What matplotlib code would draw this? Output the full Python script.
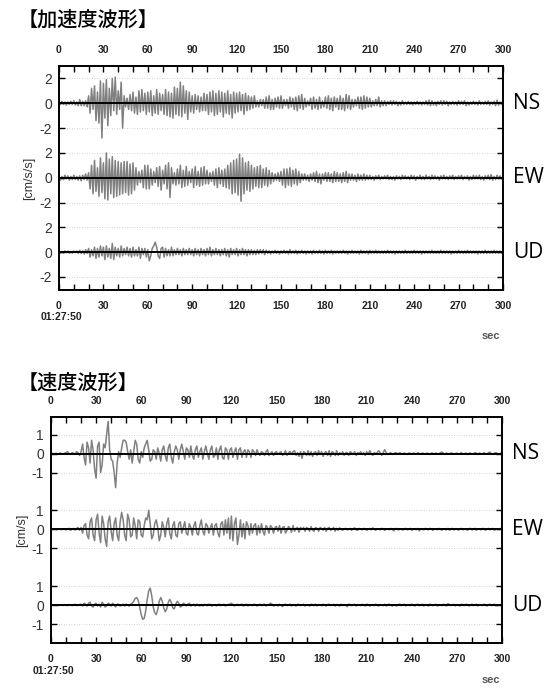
import numpy as np
import matplotlib
matplotlib.use("Agg")
import matplotlib.pyplot as plt
from matplotlib.ticker import MultipleLocator

plt.rcParams['font.family'] = ['Liberation Sans', 'DejaVu Sans']

# ---- data (1 s step, 0..300 s) ----
acc_ns = [
    0.1,-0.1,0.15,-0.1,0.1,-0.15,0.1,-0.1,0.15,-0.1,
    0.2,-0.15,0.1,-0.2,0.3,-0.2,0.15,-0.2,0.2,-0.3,
    0.6,-0.8,1.2,-0.5,1.4,-1.4,0.9,-1.6,1.8,-2.8,
    1.6,-1.2,1.9,-1.8,1.2,-1.0,2.0,-0.6,2.1,-0.9,
    1.0,-0.5,1.7,-2.0,0.6,-0.3,0.4,-0.5,0.7,-0.6,
    0.9,-0.8,0.5,-0.9,1.0,-0.7,1.1,-0.6,0.8,-0.9,
    0.9,-0.7,1.0,-1.0,0.6,-0.8,1.1,-0.9,0.8,-0.6,
    0.7,-0.9,1.1,-1.0,0.9,-1.1,0.8,-1.2,1.3,-0.9,
    1.2,-1.0,1.7,-1.1,1.4,-0.8,1.0,-1.3,0.9,-0.7,
    0.6,-0.8,0.7,-0.5,0.6,-0.7,0.5,-0.6,0.8,-0.6,
    0.7,-0.9,0.9,-0.7,1.0,-1.0,0.8,-0.9,1.0,-0.7,
    0.9,-1.1,0.8,-0.8,1.0,-0.9,0.7,-1.2,0.9,-0.8,
    0.8,-0.7,0.9,-0.6,0.7,-0.9,0.8,-0.6,0.6,-0.5,
    0.5,-0.4,0.6,-0.3,0.2,-0.3,0.3,-0.2,0.3,-0.4,
    0.5,-0.4,0.6,-0.5,0.3,-0.5,0.4,-0.3,0.5,-0.4,
    0.6,-0.4,0.3,-0.2,0.3,-0.4,0.5,-0.3,0.4,-0.5,
    0.5,-0.6,0.6,-0.4,0.7,-0.5,0.4,-0.3,0.2,-0.2,
    0.4,-0.5,0.5,-0.4,0.3,-0.5,0.5,-0.4,0.2,-0.3,
    0.5,-0.4,0.6,-0.5,0.4,-0.6,0.5,-0.3,0.4,-0.5,
    0.6,-0.5,0.4,-0.6,0.7,-0.4,0.6,-0.5,0.3,-0.3,
    0.3,-0.2,0.5,-0.4,0.5,-0.5,0.6,-0.4,0.5,-0.3,
    0.4,-0.3,0.2,-0.2,0.3,-0.2,0.5,-0.3,0.2,-0.2,
    0.2,-0.2,0.15,-0.1,0.2,-0.15,0.2,-0.1,0.15,-0.2,
    0.1,-0.15,0.2,-0.1,0.1,-0.1,0.15,-0.1,0.1,-0.15,
    0.1,-0.1,0.15,-0.1,0.1,-0.15,0.1,-0.1,0.2,-0.15,
    0.25,-0.2,0.2,-0.15,0.1,-0.2,0.15,-0.1,0.2,-0.15,
    0.2,-0.1,0.15,-0.2,0.1,-0.1,0.15,-0.1,0.1,-0.15,
    0.2,-0.1,0.15,-0.1,0.2,-0.2,0.1,-0.15,0.1,-0.1,
    0.15,-0.1,0.1,-0.15,0.2,-0.1,0.1,-0.1,0.15,-0.1,
    0.2,-0.15,0.1,-0.1,0.15,-0.2,0.25,-0.15,0.1,-0.1,0.1,
]

acc_ew = [
    0.15,-0.2,0.1,-0.15,0.2,-0.1,0.15,-0.2,0.1,-0.15,
    0.2,-0.15,0.1,-0.2,0.15,-0.25,0.2,-0.15,0.3,-0.2,
    0.4,-0.9,1.0,-1.3,1.4,-1.1,0.8,-1.5,1.6,-1.2,
    1.2,-1.7,2.0,-1.8,1.5,-1.3,1.7,-1.6,1.4,-1.5,
    1.3,-1.4,1.2,-1.3,1.3,-1.2,1.3,-1.4,1.1,-1.3,
    1.2,-1.0,0.8,-0.6,0.5,-0.4,0.6,-0.8,1.0,-0.9,
    1.0,-0.9,0.7,-0.6,0.5,-0.4,0.8,-0.7,0.9,-1.0,
    0.6,-0.5,1.0,-0.9,1.2,-1.6,0.8,-0.5,0.4,-0.6,
    0.7,-0.5,1.0,-0.8,0.6,-0.7,0.9,-0.6,0.5,-0.4,
    0.7,-0.8,0.9,-0.6,0.5,-0.7,0.8,-0.6,0.9,-0.5,
    0.6,-0.5,0.4,-0.3,0.5,-0.6,0.7,-0.8,0.8,-0.5,
    0.6,-0.7,0.7,-0.8,1.0,-0.9,1.2,-1.3,1.4,-1.2,
    1.5,-1.4,1.9,-1.9,1.6,-1.3,1.2,-1.0,1.3,-1.1,
    1.0,-0.9,0.8,-0.7,0.9,-0.8,1.0,-0.8,0.7,-0.6,
    0.8,-0.7,0.6,-0.5,0.4,-0.3,0.3,-0.2,0.4,-0.3,
    0.5,-0.6,0.7,-0.8,0.7,-0.6,0.8,-0.7,0.6,-0.5,
    0.7,-0.6,0.5,-0.4,0.3,-0.2,0.3,-0.2,0.2,-0.3,
    0.3,-0.2,0.4,-0.3,0.5,-0.4,0.3,-0.5,0.3,-0.2,
    0.4,-0.3,0.4,-0.3,0.3,-0.4,0.5,-0.3,0.4,-0.3,
    0.3,-0.4,0.4,-0.3,0.5,-0.4,0.3,-0.2,0.3,-0.2,
    0.2,-0.3,0.3,-0.2,0.2,-0.2,0.3,-0.2,0.2,-0.15,
    0.2,-0.15,0.1,-0.2,0.15,-0.1,0.2,-0.15,0.1,-0.1,
    0.15,-0.1,0.2,-0.15,0.1,-0.15,0.1,-0.2,0.15,-0.1,
    0.1,-0.15,0.2,-0.1,0.15,-0.1,0.1,-0.15,0.2,-0.1,
    0.15,-0.2,0.1,-0.1,0.2,-0.15,0.1,-0.15,0.2,-0.1,
    0.1,-0.15,0.2,-0.1,0.15,-0.1,0.1,-0.2,0.15,-0.1,
    0.2,-0.1,0.1,-0.15,0.15,-0.1,0.2,-0.15,0.1,-0.1,
    0.15,-0.1,0.2,-0.15,0.1,-0.1,0.15,-0.2,0.1,-0.15,
    0.2,-0.1,0.15,-0.1,0.2,-0.15,0.1,-0.2,0.15,-0.1,
    0.2,-0.15,0.25,-0.2,0.1,-0.15,0.2,-0.1,0.15,-0.1,0.1,
]

acc_ud = [
    0.1,-0.1,0.05,-0.1,0.1,-0.05,0.1,-0.1,0.05,-0.1,
    0.1,-0.05,0.1,-0.1,0.15,-0.1,0.1,-0.15,0.2,-0.1,
    0.3,-0.4,0.2,-0.3,0.4,-0.5,0.3,-0.4,0.5,-0.3,
    0.4,-0.6,0.5,-0.4,0.3,-0.5,0.7,-0.6,0.4,-0.3,
    0.3,-0.4,0.5,-0.3,0.3,-0.2,0.4,-0.3,0.3,-0.4,
    0.4,-0.3,0.2,-0.3,0.4,-0.5,0.3,-0.2,0.3,-0.4,
    0.2,-0.7,-0.3,0.3,0.5,0.8,0.4,-0.3,-0.5,0.3,
    0.4,-0.4,0.3,-0.3,0.2,-0.3,0.4,-0.3,0.2,-0.2,
    0.3,-0.2,0.2,-0.3,0.3,-0.2,0.2,-0.2,0.3,-0.2,
    0.2,-0.3,0.3,-0.2,0.2,-0.3,0.3,-0.2,0.2,-0.3,
    0.3,-0.2,0.4,-0.3,0.2,-0.2,0.3,-0.2,0.2,-0.3,
    0.2,-0.2,0.3,-0.3,0.2,-0.4,0.3,-0.2,0.2,-0.2,
    0.3,-0.3,0.2,-0.2,0.3,-0.2,0.2,-0.3,0.2,-0.2,
    0.2,-0.2,0.15,-0.2,0.2,-0.15,0.2,-0.1,0.2,-0.2,
    0.15,-0.1,0.1,-0.15,0.1,-0.1,0.15,-0.1,0.1,-0.15,
    0.1,-0.1,0.15,-0.1,0.1,-0.15,0.2,-0.1,0.1,-0.1,
    0.15,-0.15,0.1,-0.1,0.15,-0.1,0.1,-0.15,0.1,-0.1,
    0.1,-0.15,0.15,-0.1,0.1,-0.1,0.15,-0.1,0.1,-0.15,
    0.15,-0.1,0.1,-0.1,0.15,-0.15,0.1,-0.1,0.1,-0.1,
    0.1,-0.1,0.15,-0.1,0.1,-0.15,0.1,-0.1,0.15,-0.1,
    0.1,-0.1,0.1,-0.15,0.15,-0.1,0.1,-0.1,0.1,-0.15,
    0.15,-0.1,0.1,-0.1,0.15,-0.1,0.1,-0.1,0.1,-0.1,
    0.1,-0.1,0.15,-0.1,0.1,-0.1,0.1,-0.15,0.1,-0.1,
    0.1,-0.1,0.1,-0.1,0.15,-0.1,0.1,-0.1,0.1,-0.1,
    0.15,-0.1,0.1,-0.1,0.1,-0.15,0.1,-0.1,0.1,-0.1,
    0.1,-0.1,0.15,-0.1,0.1,-0.1,0.1,-0.1,0.15,-0.1,
    0.1,-0.1,0.1,-0.1,0.1,-0.15,0.1,-0.1,0.1,-0.1,
    0.15,-0.1,0.1,-0.1,0.1,-0.1,0.15,-0.1,0.1,-0.1,
    0.1,-0.1,0.1,-0.15,0.1,-0.1,0.1,-0.1,0.15,-0.1,
    0.1,-0.1,0.1,-0.1,0.15,-0.1,0.1,-0.1,0.1,-0.1,0.1,
]

vel_ns = [
    0.0,0.02,-0.02,0.02,0.0,-0.02,0.03,0.0,-0.03,0.02,
    0.05,0.1,0.0,-0.05,0.05,0.02,-0.05,0.1,0.05,-0.1,
    0.1,0.5,-0.2,-0.6,0.6,0.3,-0.5,0.7,0.2,-0.8,
    -1.3,0.4,0.6,-1.0,-0.6,0.5,0.3,1.0,1.7,0.2,
    -0.3,-0.4,-1.0,-1.8,-0.5,0.1,-0.2,0.3,0.7,0.7,
    0.6,0.1,-0.3,0.2,-0.5,0.1,0.7,0.5,-0.3,-0.5,
    0.1,-0.2,0.3,0.5,0.7,0.2,-0.4,-0.3,0.2,0.1,
    -0.3,0.3,0.0,-0.4,0.2,0.4,-0.1,-0.4,0.3,0.5,
    -0.2,-0.5,0.1,0.4,0.2,-0.3,0.2,0.5,0.1,-0.3,
    0.3,0.2,-0.2,0.4,-0.1,-0.3,0.2,0.4,-0.2,0.1,
    0.3,-0.3,0.1,0.4,0.0,-0.3,0.2,0.4,-0.2,-0.1,
    0.3,-0.3,0.2,0.4,-0.2,-0.3,0.3,0.2,-0.3,0.2,
    0.3,-0.2,0.1,0.3,-0.3,0.2,0.3,-0.2,0.1,0.2,
    -0.2,0.2,0.1,-0.2,0.2,0.1,-0.1,0.2,0.0,-0.1,
    0.1,0.05,-0.1,0.1,0.2,-0.1,0.0,0.1,-0.1,0.05,
    0.1,-0.05,0.05,0.1,-0.1,0.0,0.15,-0.1,0.05,0.1,
    -0.05,0.1,0.15,-0.1,0.05,-0.15,0.1,-0.25,0.1,0.05,
    -0.1,0.15,-0.1,0.1,-0.15,0.05,0.1,-0.1,0.15,-0.05,
    0.1,-0.15,0.05,0.1,-0.1,0.15,-0.15,0.1,0.05,-0.1,
    0.15,-0.1,0.05,-0.05,0.1,-0.1,0.05,0.05,-0.1,0.1,
    0.05,-0.05,0.1,-0.1,0.05,0.0,0.1,-0.05,0.05,-0.1,
    0.1,-0.05,0.15,0.0,-0.1,0.05,0.0,0.05,0.15,0.05,
    -0.1,0.05,0.2,0.05,-0.05,0.0,0.05,-0.05,0.0,0.05,
    0.03,-0.03,0.05,0.0,-0.03,0.03,0.0,-0.05,0.03,0.02,
    -0.03,0.03,0.0,-0.03,0.05,0.0,-0.02,0.03,0.0,-0.03,
    0.03,0.0,-0.05,0.03,0.02,-0.03,0.03,0.0,-0.03,0.05,
    0.08,0.02,-0.05,0.03,0.0,-0.03,0.03,0.02,-0.03,0.0,
    0.03,-0.03,0.0,0.05,-0.03,0.0,0.03,-0.05,0.02,0.03,
    -0.03,0.0,0.05,0.02,-0.05,0.03,0.0,-0.03,0.05,0.0,
    -0.03,0.05,0.08,-0.02,-0.05,0.03,0.05,0.0,-0.03,0.03,0.0,
]

vel_ew = [
    0.0,-0.03,0.02,0.0,-0.02,0.03,0.0,-0.02,0.02,0.0,
    -0.03,0.02,0.05,-0.05,0.0,0.05,-0.05,0.05,0.1,-0.05,
    0.1,-0.2,0.2,0.3,-0.3,-0.5,0.4,0.6,-0.3,-0.6,
    0.5,0.8,-0.2,-0.7,0.7,0.3,-0.5,-0.9,0.4,0.7,
    -0.1,-0.6,0.3,0.6,-0.3,-0.6,0.4,0.9,0.5,-0.3,
    -0.6,0.8,0.5,-0.4,-0.3,0.6,0.2,-0.5,0.5,0.4,
    -0.3,-0.4,0.2,0.6,0.5,1.0,0.3,-0.5,-0.3,0.3,
    0.5,0.1,-0.6,-0.3,0.4,0.1,-0.4,0.3,0.6,-0.2,
    -0.5,0.2,0.4,-0.3,-0.4,0.3,0.4,-0.2,0.1,0.4,
    -0.2,-0.3,0.3,0.1,-0.3,0.2,0.4,-0.2,-0.3,0.2,
    0.5,-0.1,-0.3,0.3,0.2,-0.2,0.1,0.3,-0.3,0.2,
    0.3,-0.2,-0.4,0.3,0.4,-0.3,0.5,-0.2,0.6,-0.5,
    0.7,-0.6,0.3,0.6,-0.8,-0.3,0.5,-0.4,0.3,-0.5,
    0.4,0.2,-0.3,0.3,-0.2,0.2,0.3,-0.3,0.2,-0.2,
    0.3,-0.1,-0.3,0.2,0.1,-0.2,0.2,0.1,-0.2,0.1,
    0.15,-0.1,0.2,-0.2,0.1,0.15,-0.2,-0.05,0.15,0.05,
    -0.15,0.2,-0.1,0.05,0.1,-0.15,0.1,0.0,0.1,-0.1,
    0.1,0.05,-0.1,0.15,-0.05,-0.1,0.1,0.05,-0.1,0.1,
    0.05,-0.05,0.1,-0.1,0.05,0.1,-0.05,0.0,0.1,-0.1,
    0.05,-0.05,0.08,0.0,-0.05,0.03,0.05,-0.03,0.0,0.05,
    -0.05,0.03,0.08,-0.03,-0.05,0.05,0.0,-0.03,0.05,0.03,
    -0.05,0.0,0.05,-0.03,0.08,0.0,-0.05,0.03,0.0,-0.03,
    0.05,0.03,-0.05,0.0,0.03,-0.03,0.05,0.0,-0.08,0.03,
    0.05,-0.03,0.0,0.03,-0.05,0.03,0.05,-0.03,0.0,0.05,
    -0.05,0.0,0.03,-0.03,0.05,-0.08,0.03,0.0,-0.03,0.05,
    0.0,-0.03,0.05,0.03,-0.05,0.0,0.03,-0.03,0.05,0.0,
    -0.05,0.03,0.0,-0.03,0.05,-0.05,0.03,0.05,-0.03,0.0,
    0.03,-0.05,0.0,0.05,-0.03,0.03,0.0,-0.05,0.03,0.05,
    -0.03,0.0,0.05,-0.05,0.03,0.0,-0.03,0.05,0.03,-0.05,
    0.0,0.05,-0.03,0.03,0.05,-0.05,0.0,0.03,-0.03,0.05,0.0,
]

vel_ud = [
    0.0,0.02,-0.02,0.03,0.0,-0.03,0.02,0.0,-0.02,0.03,
    0.0,-0.03,0.03,0.02,-0.03,0.0,0.05,-0.03,0.0,0.03,
    0.05,-0.05,0.1,0.05,-0.05,0.1,0.15,-0.05,-0.1,0.05,
    0.1,-0.05,0.05,-0.1,0.15,0.05,-0.1,-0.05,0.1,0.05,
    -0.05,0.1,0.0,-0.1,0.05,0.05,-0.05,0.0,0.05,-0.05,
    0.05,0.0,-0.05,0.05,0.1,0.2,0.35,0.4,0.25,-0.1,
    -0.5,-0.75,-0.7,-0.3,0.3,0.75,0.9,0.5,-0.1,-0.4,
    -0.5,-0.25,0.2,0.4,0.2,-0.15,-0.35,-0.2,0.15,0.3,
    0.15,-0.15,-0.2,0.05,0.2,0.1,-0.1,-0.05,0.1,0.05,
    -0.05,0.05,0.1,-0.05,0.0,0.05,-0.05,0.05,0.0,-0.05,
    0.03,-0.05,0.05,0.0,-0.03,0.05,0.03,-0.05,0.0,0.03,
    -0.05,0.03,0.05,-0.03,0.0,0.05,-0.05,0.0,0.03,0.05,
    0.1,0.03,-0.05,0.0,0.05,-0.03,0.03,0.05,-0.05,0.0,
    0.05,-0.05,0.03,0.0,-0.03,0.05,0.03,-0.05,0.0,0.05,
    -0.03,0.03,0.05,-0.05,0.0,0.03,0.1,0.05,-0.05,0.0,
    0.03,-0.05,0.05,0.0,-0.08,0.03,0.05,-0.03,0.0,0.05,
    -0.05,0.03,0.0,-0.05,0.05,0.03,-0.03,0.0,0.05,-0.05,
    0.0,0.03,-0.05,0.05,0.0,-0.03,0.05,-0.05,0.03,0.0,
    -0.03,0.05,0.0,-0.05,0.03,0.05,-0.03,0.0,0.05,-0.05,
    0.03,0.0,-0.05,0.05,-0.03,0.03,0.0,-0.08,0.05,0.03,
    -0.03,0.0,0.05,-0.05,0.03,0.0,-0.03,0.05,0.0,-0.05,
    0.05,0.03,-0.05,0.0,0.03,-0.03,0.05,0.0,-0.05,0.03,
    0.0,-0.03,0.05,-0.05,0.03,0.05,0.0,-0.05,0.03,0.0,
    -0.05,0.03,0.05,-0.03,0.0,0.05,-0.05,0.03,0.0,-0.03,
    0.05,0.0,-0.05,0.03,0.05,-0.03,0.0,0.05,-0.05,0.03,
    0.0,-0.05,0.05,0.03,-0.03,0.0,0.05,-0.05,0.03,0.0,
    -0.03,0.05,0.0,-0.05,0.08,0.03,-0.03,0.0,0.05,-0.05,
    0.03,0.0,-0.05,0.05,0.0,-0.03,0.05,0.03,-0.05,0.0,
    0.05,-0.03,0.0,0.05,-0.05,0.03,0.0,-0.03,0.05,0.0,
    -0.05,0.03,0.05,-0.03,0.0,0.05,-0.05,0.0,0.03,-0.03,0.0,
]

components = ["NS", "EW", "UD"]
x_ticks = [0, 30, 60, 90, 120, 150, 180, 210, 240, 270, 300]
start_time = "01:27:50"

fig = plt.figure(figsize=(5.58, 6.89), dpi=100)

def panel(rect, traces, offset, tick_vals, tick_labels, ylim, ylabel, title, title_y, sec_y):
    ax = fig.add_axes(rect)
    for i, tr in enumerate(traces):
        base = -i * offset
        ax.plot(np.arange(len(tr)), np.array(tr) + base, color="#808080", lw=1.1, zorder=2)
        ax.axhline(base, color="black", lw=1.4, zorder=3)
        for v in tick_vals:
            if v != 0:
                ax.axhline(base + v, color="#c4c4c4", lw=0.6, ls=(0, (1, 2)), zorder=1)
        ax.text(1.022, (base - ylim[0]) / (ylim[1] - ylim[0]), components[i],
                transform=ax.transAxes, fontsize=15, va="center", ha="left",
                family=["Open Sans", "DejaVu Sans"])
    yt = []
    yl = []
    for i in range(len(traces)):
        for v, lab in zip(tick_vals, tick_labels):
            yt.append(-i * offset + v)
            yl.append(lab)
    ax.set_yticks(yt)
    ax.set_yticklabels(yl, fontsize=10, color="#333333")
    ax.set_xlim(0, 300)
    ax.set_ylim(*ylim)
    ax.set_xticks(x_ticks)
    ax.set_xticklabels([str(v) for v in x_ticks], fontsize=7.5, fontweight="bold",
                       color="#222222")
    ax.xaxis.set_minor_locator(MultipleLocator(10))
    ax.tick_params(axis="x", which="both", direction="in", top=True, bottom=True,
                   labeltop=True, labelbottom=True, length=4, width=1.0, pad=8)
    ax.tick_params(axis="y", direction="in", left=True, right=True, length=4, width=1.0, pad=5)
    for s in ax.spines.values():
        s.set_linewidth(1.4)
    ax.set_ylabel(ylabel, fontsize=9, labelpad=3, color="#333333")
    fig.text(0.032, title_y, title, fontsize=14.5, ha="left", va="center",
             fontweight="medium", family=["Noto Sans CJK JP", "DejaVu Sans"])
    ax.text(0.005, -0.1, start_time, transform=ax.transAxes, fontsize=7.5,
            fontweight="bold", ha="center", va="top", color="#222222")
    fig.text(0.88, sec_y, "sec", fontsize=8, fontweight="bold", color="#555555",
             ha="center", va="center")
    return ax

panel([59 / 558, 1 - 290 / 689, 444 / 558, 224 / 689], [acc_ns, acc_ew, acc_ud], 6,
      [2, 0, -2], ["2", "0", "-2"], (-15.05, 3.0), "[cm/s/s]", "【加速度波形】",
      1 - 20 / 689, 1 - 336 / 689)

panel([51 / 558, 1 - 643 / 689, 451 / 558, 226 / 689], [vel_ns, vel_ew, vel_ud], 4,
      [1, 0, -1], ["1", "0", "-1"], (-10.0, 1.93), "[cm/s]", "【速度波形】",
      1 - 383 / 689, 1 - 680 / 689)

fig.savefig("out.png", dpi=100)
